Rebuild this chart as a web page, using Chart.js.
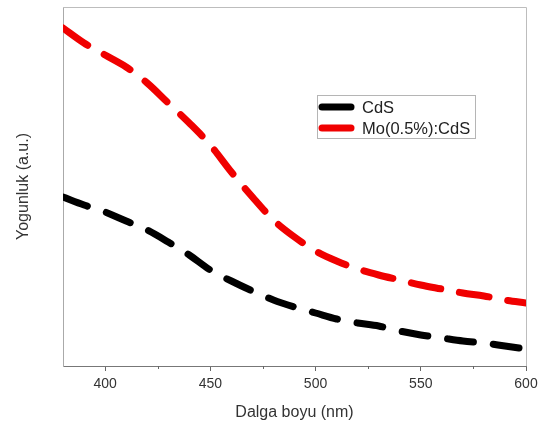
<!DOCTYPE html>
<html>
<head>
<meta charset="utf-8">
<script src="https://cdn.jsdelivr.net/npm/chart.js@4/dist/chart.umd.min.js"></script>
<style>
  html, body { margin:0; padding:0; background:#fff; }
  #wrap { width:547px; height:426px; }
</style>
</head>
<body>
<div id="wrap"><canvas id="chart" width="547" height="426"></canvas></div>
<script>
// wavelengths (nm) and intensities (a.u.)
const wavelengths = [380,390,400,410,420,430,440,450,460,470,480,490,500,510,520,530,540,550,560,570,580,590,600];
const cdsValues   = [169,161,154,145,136,124,111,96,85,75,66,59,53,47,43,40,35,31,28,25,23,20,17];
const moCdsValues = [338,323,311,299,283,263,243,221,194,169,146,129,115,105,97,91,86,81,77,73,70,66,63];
const majorTicks = [400,450,500,550,600];
const minorTicks = [425,475,525,575];
const seriesNames = ['CdS', 'Mo(0.5%):CdS'];
const seriesColors = ['#000000', '#f00000'];

const FONT = '"Liberation Sans", Arial, sans-serif';

const toPoints = (vals) => wavelengths.map((w, i) => ({ x: w, y: vals[i] }));

// frame, minor ticks and the boxed legend
const decor = {
  id: 'decor',
  afterDraw(chart){
    const { ctx, chartArea: a, scales } = chart;
    ctx.save();
    ctx.strokeStyle = '#bdbdbd';
    ctx.lineWidth = 1;
    ctx.beginPath();
    ctx.moveTo(a.left, a.top + 0.5); ctx.lineTo(a.right + 0.5, a.top + 0.5); ctx.lineTo(a.right + 0.5, a.bottom);
    ctx.stroke();

    ctx.strokeStyle = '#666';
    minorTicks.forEach(v => {
      const px = Math.round(scales.x.getPixelForValue(v)) + 0.5;
      ctx.beginPath(); ctx.moveTo(px, a.bottom); ctx.lineTo(px, a.bottom + 3); ctx.stroke();
    });

    // legend
    const bx = 317, by = 95, bw = 158, bh = 43;
    ctx.fillStyle = '#fff';
    ctx.fillRect(bx, by, bw, bh);
    ctx.strokeStyle = '#b5b5b5';
    ctx.strokeRect(bx + 0.5, by + 0.5, bw, bh);
    ctx.font = '16.5px ' + FONT;
    ctx.textBaseline = 'middle';
    seriesNames.forEach((name, i) => {
      const y = by + 12 + i * 21;
      ctx.strokeStyle = seriesColors[i];
      ctx.lineWidth = 7;
      ctx.lineCap = 'round';
      ctx.beginPath(); ctx.moveTo(bx + 5, y); ctx.lineTo(bx + 34, y); ctx.stroke();
      ctx.fillStyle = '#222';
      ctx.fillText(name, bx + 45, y + 1);
    });
    ctx.restore();
  }
};

new Chart(document.getElementById('chart'), {
  type: 'line',
  data: {
    datasets: [
      { label: seriesNames[0], data: toPoints(cdsValues), borderColor: seriesColors[0], borderDash: [26, 20] },
      { label: seriesNames[1], data: toPoints(moCdsValues), borderColor: seriesColors[1], borderDash: [30, 19] }
    ]
  },
  options: {
    responsive: false,
    animation: false,
    layout: { padding: { left: 10, top: 7, right: 21, bottom: 0 } },
    elements: {
      line: { borderWidth: 7, tension: 0.4, cubicInterpolationMode: 'monotone', borderCapStyle: 'round', fill: false },
      point: { radius: 0 }
    },
    plugins: { legend: { display: false }, tooltip: { enabled: false } },
    scales: {
      x: {
        type: 'linear', min: 380, max: 600,
        afterBuildTicks: (s) => { s.ticks = majorTicks.map(v => ({ value: v })); },
        afterFit: (s) => { s.height = 60; },
        grid: { drawOnChartArea: false, drawTicks: true, tickLength: 5, color: '#666' },
        border: { display: true, color: '#777', width: 1 },
        ticks: { color: '#333', font: { family: FONT, size: 14 }, padding: 5, maxRotation: 0 },
        title: { display: true, text: 'Dalga boyu (nm)', color: '#333', font: { family: FONT, size: 16 }, padding: { top: 4, bottom: 4 } }
      },
      y: {
        min: 0, max: 359,
        afterFit: (s) => { s.width = 53; },
        grid: { display: false },
        border: { display: true, color: '#aaa', width: 1 },
        ticks: { display: false },
        title: { display: true, text: 'Yogunluk (a.u.)', color: '#333', font: { family: FONT, size: 16 }, padding: 4 }
      }
    }
  },
  plugins: [decor]
});
</script>
</body>
</html>
